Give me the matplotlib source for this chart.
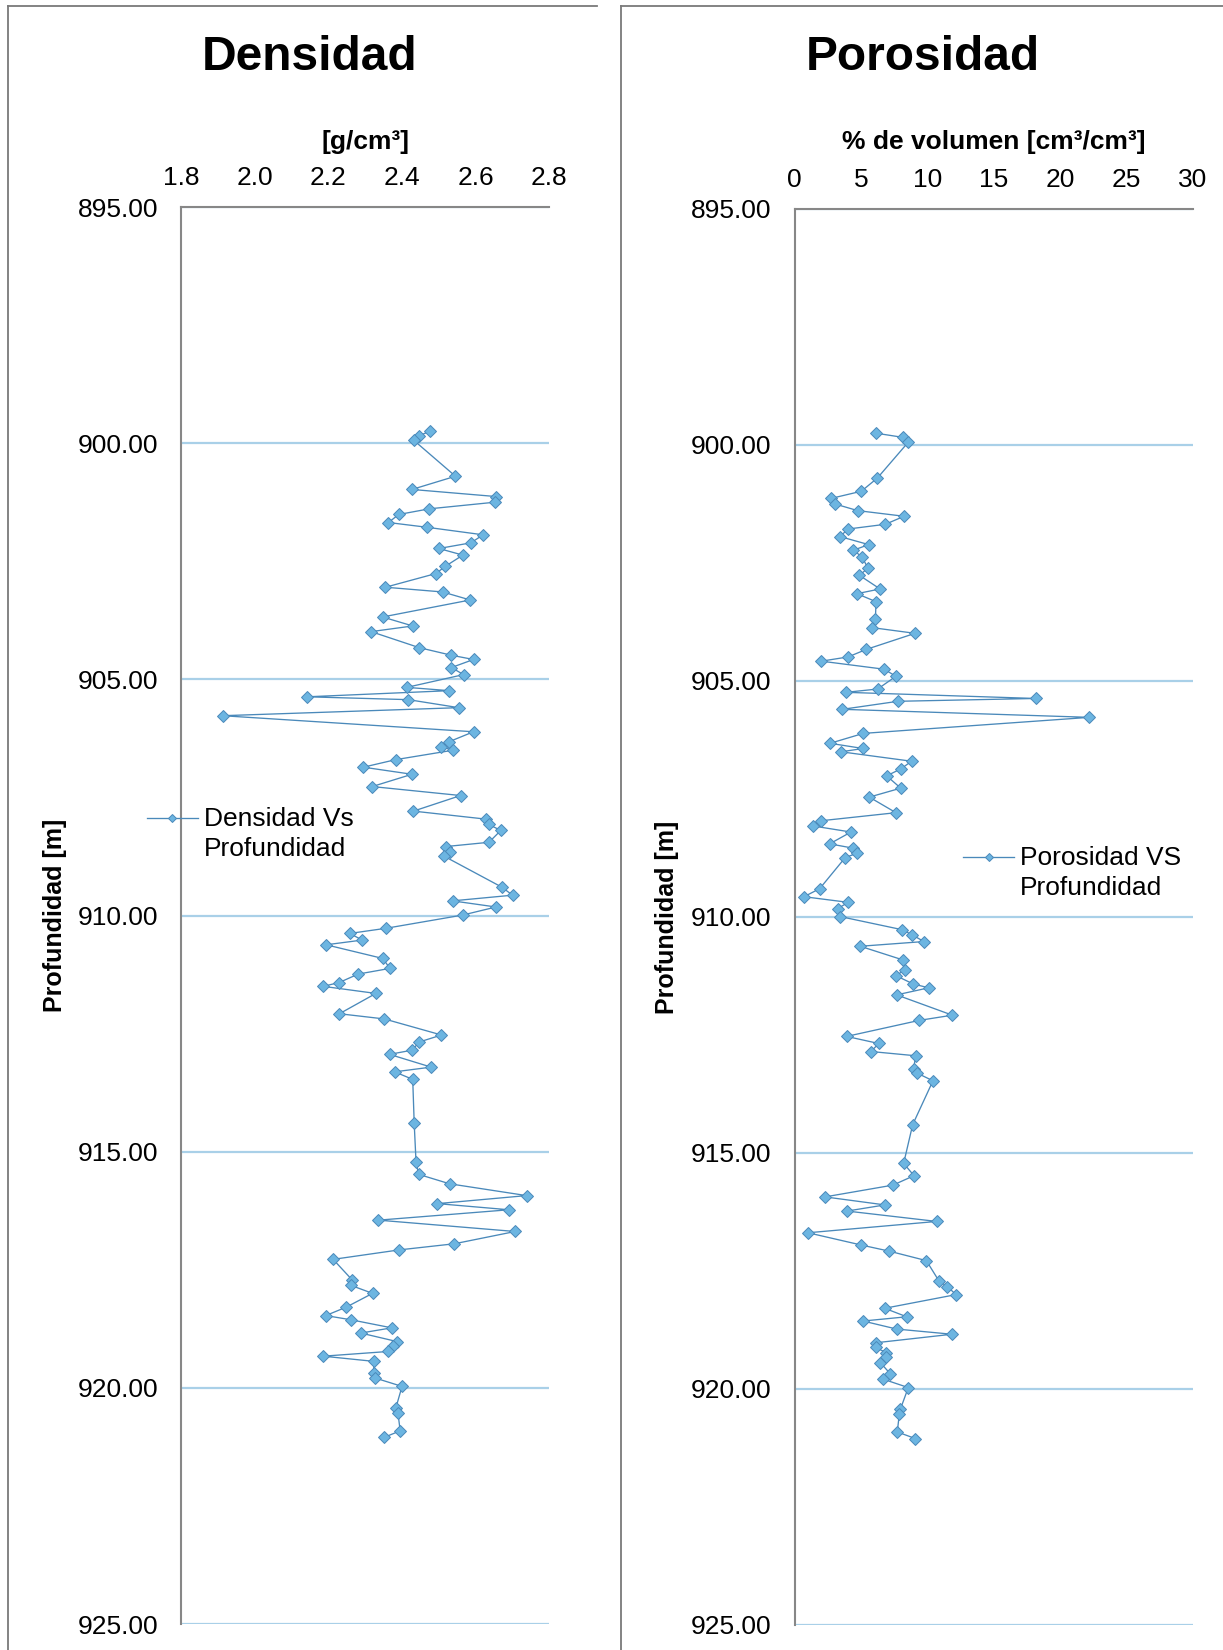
import matplotlib
matplotlib.use("Agg")
import matplotlib.pyplot as plt
from matplotlib.lines import Line2D

plt.rcParams['font.family'] = ['Liberation Sans', 'DejaVu Sans']

# Profundidad de cada muestra [m]
profundidad = [
    899.75, 899.84, 899.94, 900.70, 900.98, 901.13, 901.25, 901.39, 901.51, 901.68,
    901.78, 901.94, 902.11, 902.23, 902.37, 902.61, 902.76, 903.05, 903.15, 903.32,
    903.68, 903.87, 903.99, 904.33, 904.49, 904.58, 904.75, 904.90, 905.17, 905.24,
    905.37, 905.43, 905.60, 905.77, 906.11, 906.32, 906.43, 906.50, 906.70, 906.86,
    907.01, 907.27, 907.46, 907.79, 907.96, 908.07, 908.20, 908.45, 908.54, 908.65,
    908.74, 909.40, 909.57, 909.69, 909.82, 909.99, 910.27, 910.38, 910.52, 910.62,
    910.91, 911.12, 911.24, 911.42, 911.50, 911.65, 912.08, 912.19, 912.53, 912.68,
    912.85, 912.94, 913.21, 913.31, 913.47, 914.40, 915.22, 915.48, 915.68, 915.93,
    916.10, 916.23, 916.45, 916.69, 916.95, 917.08, 917.28, 917.71, 917.83, 918.00,
    918.29, 918.47, 918.56, 918.73, 918.84, 919.02, 919.12, 919.23, 919.33, 919.44,
    919.68, 919.79, 919.97, 920.43, 920.54, 920.91, 921.05,
]

# Densidad [g/cm3]
densidad = [
    2.476, 2.446, 2.432, 2.545, 2.427, 2.655, 2.652, 2.474, 2.391, 2.363,
    2.467, 2.620, 2.587, 2.500, 2.565, 2.517, 2.492, 2.355, 2.510, 2.585,
    2.347, 2.429, 2.316, 2.447, 2.534, 2.594, 2.534, 2.567, 2.413, 2.528,
    2.142, 2.417, 2.554, 1.913, 2.594, 2.528, 2.506, 2.539, 2.383, 2.295,
    2.427, 2.319, 2.559, 2.431, 2.628, 2.635, 2.668, 2.636, 2.519, 2.531,
    2.513, 2.671, 2.700, 2.537, 2.655, 2.565, 2.357, 2.258, 2.292, 2.194,
    2.348, 2.367, 2.281, 2.229, 2.186, 2.329, 2.230, 2.352, 2.507, 2.446,
    2.428, 2.366, 2.479, 2.380, 2.429, 2.433, 2.438, 2.445, 2.529, 2.738,
    2.496, 2.690, 2.336, 2.707, 2.542, 2.392, 2.213, 2.264, 2.261, 2.320,
    2.249, 2.193, 2.262, 2.372, 2.288, 2.386, 2.375, 2.363, 2.186, 2.324,
    2.323, 2.326, 2.400, 2.383, 2.389, 2.395, 2.351,
]

# Porosidad [% de volumen]
porosidad = [
    6.14, 8.20, 8.57, 6.24, 5.03, 2.77, 3.05, 4.75, 8.25, 6.84,
    4.03, 3.42, 5.58, 4.43, 5.08, 5.53, 4.88, 6.44, 4.70, 6.14,
    6.09, 5.86, 9.08, 5.41, 4.03, 2.02, 6.74, 7.64, 6.26, 3.87,
    18.17, 7.79, 3.60, 22.22, 5.18, 2.67, 5.16, 3.50, 8.82, 8.02,
    6.94, 8.00, 5.63, 7.64, 2.02, 1.36, 4.25, 2.64, 4.38, 4.70,
    3.82, 1.89, 0.71, 4.05, 3.25, 3.42, 8.12, 8.87, 9.75, 4.95,
    8.17, 8.35, 7.62, 8.95, 10.11, 7.69, 11.89, 9.40, 3.92, 6.34,
    5.76, 9.13, 8.97, 9.25, 10.43, 8.90, 8.22, 9.00, 7.42, 2.29,
    6.81, 3.95, 10.71, 1.01, 5.03, 7.14, 9.93, 10.88, 11.51, 12.17,
    6.79, 8.45, 5.16, 7.69, 11.86, 6.14, 6.11, 6.91, 6.91, 6.46,
    7.22, 6.66, 8.57, 7.97, 7.89, 7.74, 9.10,
]

prof_ticks = [895, 900, 905, 910, 915, 920, 925]
dens_ticks = [1.8, 2.0, 2.2, 2.4, 2.6, 2.8]
poro_ticks = [0, 5, 10, 15, 20, 25, 30]

W, H = 1223, 1650
fig = plt.figure(figsize=(W / 100, H / 100), dpi=100)

LINE = '#4A89BA'
FACE = '#6CB5E1'
EDGE = '#4A89BA'
GRID = '#A9D0E8'
AXIS = '#878787'
BORDER = '#7A7A7A'


def fx(x):
    return x / W


def fy(y):
    return 1 - y / H


def panel(rect, xdata, xlim, xticks, xlabels, title, title_x, xlabel,
          ylabel_x, leg_label, leg_x, leg_y):
    ax = fig.add_axes(rect)
    ax.plot(xdata, profundidad, color=LINE, lw=0.95, marker='D', ms=5.8,
            mfc=FACE, mec=EDGE, mew=0.7, zorder=3)
    ax.set_xlim(*xlim)
    ax.set_ylim(925, 895)
    ax.set_yticks(prof_ticks)
    ax.set_yticklabels([f"{v:.2f}" for v in prof_ticks])
    ax.set_xticks(xticks)
    ax.set_xticklabels(xlabels)
    ax.xaxis.tick_top()
    ax.tick_params(axis='both', length=0, labelsize=19, labelcolor='#000000')
    ax.tick_params(axis='y', pad=16.5)
    ax.tick_params(axis='x', pad=12)
    ax.grid(axis='y', color=GRID, lw=1.6)
    ax.grid(axis='x', visible=False)
    ax.set_axisbelow(True)
    for s in ('right', 'bottom'):
        ax.spines[s].set_visible(False)
    for s in ('left', 'top'):
        ax.spines[s].set_color(AXIS)
        ax.spines[s].set_linewidth(1.5)
        ax.spines[s].set_zorder(2.5)

    # Título, unidad del eje horizontal y eje vertical
    fig.text(fx(title_x), fy(58), title, fontsize=34.5, fontweight='bold',
             ha='center', va='center')
    cx = rect[0] + rect[2] / 2
    fig.text(cx, fy(142), xlabel, fontsize=19, fontweight='bold',
             ha='center', va='center')
    cy = rect[1] + rect[3] / 2
    fig.text(fx(ylabel_x), cy, 'Profundidad [m]', fontsize=18,
             fontweight='bold', rotation=90, ha='center', va='center')

    # Leyenda
    x0, x1 = leg_x
    fig.add_artist(Line2D([fx(x0), fx(x1)], [fy(leg_y), fy(leg_y)],
                          transform=fig.transFigure, color=LINE, lw=0.95))
    fig.add_artist(Line2D([fx((x0 + x1) / 2)], [fy(leg_y)],
                          transform=fig.transFigure, marker='D', ms=4.0,
                          mfc=FACE, mec=EDGE, mew=0.7, lw=0))
    fig.text(fx(x1 + 6), fy(leg_y + 16), leg_label, fontsize=19,
             ha='left', va='center', linespacing=1.33)
    return ax


panel([181 / W, (H - 1624) / H, 368.4 / W, 1417 / H],
      densidad, (1.8, 2.8), dens_ticks, [f"{v:.1f}" for v in dens_ticks],
      'Densidad', 310, '[g/cm³]', 55,
      'Densidad Vs\nProfundidad', (147, 198), 818)

panel([794.6 / W, (H - 1625) / H, 398 / W, 1416 / H],
      porosidad, (0, 30), poro_ticks, [str(v) for v in poro_ticks],
      'Porosidad', 923, '% de volumen [cm³/cm³]', 667,
      'Porosidad VS\nProfundidad', (963, 1014), 857)

# Marcos de los dos gráficos
for (xl, xr) in ((8.4, 597), (621, W + 5)):
    fig.add_artist(Line2D([fx(xl), fx(xl)], [fy(6.3), fy(H + 5)],
                          transform=fig.transFigure, color=BORDER, lw=1.3))
    fig.add_artist(Line2D([fx(xl), fx(xr)], [fy(6.3), fy(6.3)],
                          transform=fig.transFigure, color=BORDER, lw=1.3))

fig.savefig('out.png', dpi=100)
